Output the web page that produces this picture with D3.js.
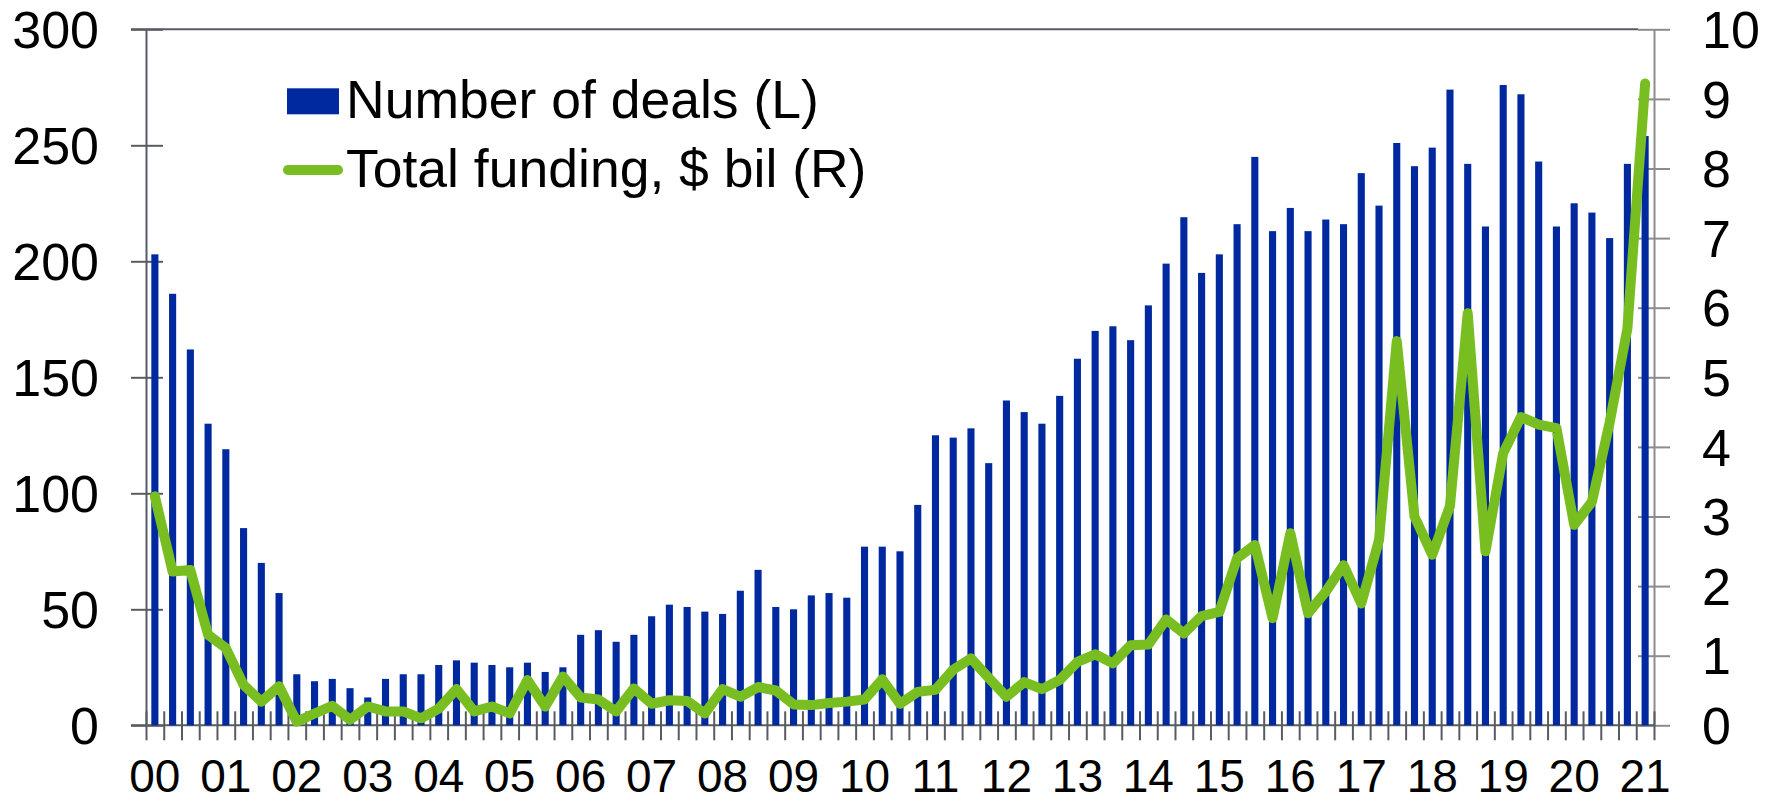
<!DOCTYPE html>
<html>
<head>
<meta charset="utf-8">
<script src="https://cdn.jsdelivr.net/npm/d3@7"></script>
<style>
  html, body { margin: 0; padding: 0; background: #fff; }
  svg text { font-family: "Liberation Sans", Arial, sans-serif; fill: #000; }
</style>
</head>
<body>
<div id="chart"></div>
<script>
// quarterly data, 2000 Q1 .. 2021 Q1
var yearLabels = ["00","01","02","03","04","05","06","07","08","09","10",
                  "11","12","13","14","15","16","17","18","19","20","21"];

var deals = [
    203, 186, 162, 130,   // 2000
    119,  85,  70,  57,   // 2001
     22,  19,  20,  16,   // 2002
     12,  20,  22,  22,   // 2003
     26,  28,  27,  26,   // 2004
     25,  27,  23,  25,   // 2005
     39,  41,  36,  39,   // 2006
     47,  52,  51,  49,   // 2007
     48,  58,  67,  51,   // 2008
     50,  56,  57,  55,   // 2009
     77,  77,  75,  95,   // 2010
    125, 124, 128, 113,   // 2011
    140, 135, 130, 142,   // 2012
    158, 170, 172, 166,   // 2013
    181, 199, 219, 195,   // 2014
    203, 216, 245, 213,   // 2015
    223, 213, 218, 216,   // 2016
    238, 224, 251, 241,   // 2017
    249, 274, 242, 215,   // 2018
    276, 272, 243, 215,   // 2019
    225, 221, 210, 242,   // 2020
    254                   // 2021
];

var funding = [
    3.29, 2.21, 2.23, 1.30,
    1.11, 0.58, 0.34, 0.56,
    0.05, 0.17, 0.28, 0.08,
    0.27, 0.20, 0.20, 0.10,
    0.24, 0.52, 0.20, 0.27,
    0.17, 0.65, 0.27, 0.70,
    0.40, 0.37, 0.20, 0.53,
    0.31, 0.36, 0.35, 0.17,
    0.52, 0.41, 0.55, 0.50,
    0.30, 0.29, 0.32, 0.34,
    0.37, 0.66, 0.31, 0.48,
    0.51, 0.80, 0.96, 0.68,
    0.41, 0.62, 0.52, 0.65,
    0.91, 1.02, 0.89, 1.15,
    1.16, 1.52, 1.32, 1.57,
    1.63, 2.40, 2.59, 1.54,
    2.76, 1.61, 1.92, 2.30,
    1.75, 2.66, 5.52, 3.00,
    2.45, 3.15, 5.92, 2.50,
    3.91, 4.43, 4.32, 4.27,
    2.88, 3.21, 4.35, 5.70,
    9.22
];

var leftTicks = [0, 50, 100, 150, 200, 250, 300];
var rightTicks = [0, 1, 2, 3, 4, 5, 6, 7, 8, 9, 10];

var legendItems = ["Number of deals (L)", "Total funding, $ bil (R)"];

var W = 1778, H = 802;
var plot = {left: 146, right: 1654, top: 29.3, bottom: 725.3};
var blue = "#0029a0", green = "#78be21";
var axisDark = "#575c63", axisLight = "#8c8c8c";

var svg = d3.select("#chart").append("svg")
    .attr("width", W)
    .attr("height", H);

var idx = d3.range(deals.length);

var x = d3.scaleBand()
    .domain(idx)
    .range([plot.left, plot.right])
    .paddingInner(0.6)
    .paddingOuter(0.3);

// linear scale on quarter boundaries, for the tick marks
var xq = d3.scaleLinear()
    .domain([0, deals.length])
    .range([plot.left, plot.right]);

var yL = d3.scaleLinear().domain([0, 300]).range([plot.bottom, plot.top]);
var yR = d3.scaleLinear().domain([0, 10]).range([plot.bottom, plot.top]);

// top frame line
svg.append("line")
    .attr("x1", plot.left - 15).attr("x2", plot.right - 16)
    .attr("y1", plot.top).attr("y2", plot.top)
    .attr("stroke", axisDark).attr("stroke-width", 2);

// left axis
var gL = svg.append("g")
    .attr("transform", "translate(" + plot.left + ",0)")
    .call(d3.axisLeft(yL).tickValues(leftTicks).tickSize(0).tickPadding(47));
gL.select(".domain").attr("stroke", axisDark).attr("stroke-width", 2);
gL.selectAll(".tick line")
    .attr("x1", -15).attr("x2", 17)
    .attr("stroke", axisDark).attr("stroke-width", 2);
gL.selectAll(".tick text")
    .attr("font-size", 52)
    .attr("dy", "0.35em");

// right axis
var gR = svg.append("g")
    .attr("transform", "translate(" + plot.right + ",0)")
    .call(d3.axisRight(yR).tickValues(rightTicks).tickSize(0).tickPadding(48));
gR.select(".domain").attr("stroke", axisLight).attr("stroke-width", 2);
gR.selectAll(".tick line")
    .attr("x1", -16).attr("x2", 16)
    .attr("stroke", axisLight).attr("stroke-width", 2);
gR.selectAll(".tick text")
    .attr("font-size", 52)
    .attr("dy", "0.35em");

// bottom axis: a tick at every quarter boundary
var gB = svg.append("g")
    .attr("transform", "translate(0," + plot.bottom + ")")
    .call(d3.axisBottom(xq).tickValues(d3.range(deals.length + 1)).tickSize(0).tickFormat(""));
gB.select(".domain").attr("d", "M" + (plot.left - 15) + ",0H" + plot.right)
    .attr("stroke", axisDark).attr("stroke-width", 2);
gB.selectAll(".tick line")
    .attr("y1", -14).attr("y2", 15)
    .attr("stroke", axisDark).attr("stroke-width", 2);

// year labels under the first quarter of each year
svg.append("g").selectAll("text")
    .data(yearLabels)
    .enter().append("text")
    .attr("x", function(d, i){ return xq(i * 4 + 0.5); })
    .attr("y", 792)
    .attr("text-anchor", "middle")
    .attr("font-size", 46)
    .text(function(d){ return d; });

// bars
svg.append("g").selectAll("rect")
    .data(deals)
    .enter().append("rect")
    .attr("x", function(d, i){ return x(i); })
    .attr("width", x.bandwidth())
    .attr("y", function(d){ return yL(d); })
    .attr("height", function(d){ return plot.bottom - yL(d); })
    .attr("fill", blue);

// funding line
var line = d3.line()
    .x(function(d, i){ return xq(i + 0.5); })
    .y(function(d){ return yR(d); });

svg.append("path")
    .datum(funding)
    .attr("d", line)
    .attr("fill", "none")
    .attr("stroke", green)
    .attr("stroke-width", 10)
    .attr("stroke-linejoin", "round")
    .attr("stroke-linecap", "round");

// legend
var lg = svg.append("g");
lg.append("rect")
    .attr("x", 287).attr("y", 88.3)
    .attr("width", 52).attr("height", 26)
    .attr("fill", blue);
lg.append("line")
    .attr("x1", 288).attr("x2", 338)
    .attr("y1", 170).attr("y2", 170)
    .attr("stroke", green).attr("stroke-width", 10)
    .attr("stroke-linecap", "round");
lg.selectAll("text")
    .data(legendItems)
    .enter().append("text")
    .attr("x", 346)
    .attr("y", function(d, i){ return i == 0 ? 117.5 : 186.5; })
    .attr("font-size", 53.5)
    .text(function(d){ return d; });
</script>
</body>
</html>
